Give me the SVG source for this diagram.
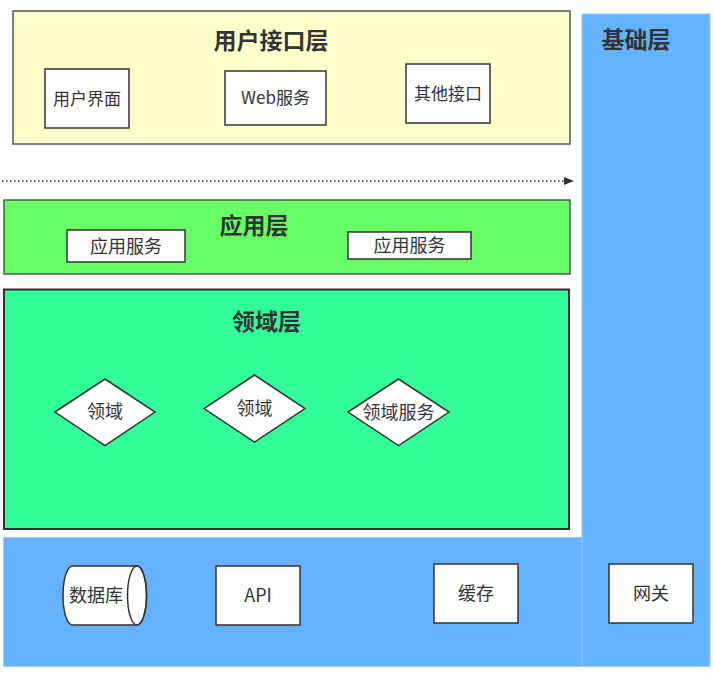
<svg xmlns="http://www.w3.org/2000/svg" width="713" height="673" viewBox="0 0 713 673">
<style>
  text { font-family: "Noto Sans CJK SC", "Noto Sans", sans-serif; fill: #333333; text-anchor: middle; }
  .title { font-size: 23px; font-weight: bold; }
  .lbl { font-size: 18px; }
  .lbl-s { font-size: 17px; }
  .box { fill: #ffffff; stroke: #333333; stroke-width: 1.5; }
  .layer { stroke: #555555; stroke-width: 1.5; }
  .base { fill: #66b2ff; stroke: #99ccff; stroke-width: 1; }
  .conn { fill: none; stroke: #333333; stroke-width: 1.5; stroke-dasharray: 1.5 2.5; }
</style>
<defs>
  <marker id="arrow" markerWidth="10" markerHeight="8" refX="10" refY="4" orient="auto" markerUnits="userSpaceOnUse">
    <path d="M0,0 L10,4 L0,8 Z" fill="#333333"/>
  </marker>
</defs>
<rect width="713" height="673" fill="#ffffff"/>

<g id="infra-layer">
  <rect class="base" x="3.5" y="537.5" width="706" height="129"/>
  <rect class="base" x="582" y="14" width="128" height="652.5"/>
  <rect x="583" y="538" width="126" height="128" fill="#66b2ff"/>
  <text class="title" x="636" y="48">基础层</text>
</g>

<g id="ui-layer">
  <rect class="layer" x="13" y="11" width="557" height="133" fill="#ffffcc"/>
  <text class="title" x="271" y="48.5">用户接口层</text>
</g>
<g id="ui-box"><rect class="box" x="45" y="69" width="84" height="59"/><text class="lbl-s" x="87" y="104.5">用户界面</text></g>
<g id="web-box"><rect class="box" x="225" y="71" width="101" height="54"/><text class="lbl-s" x="275.5" y="104">Web服务</text></g>
<g id="other-box"><rect class="box" x="406" y="64" width="84" height="59"/><text class="lbl-s" x="448" y="99.5">其他接口</text></g>

<g id="connectors">
  <line class="conn" x1="2" y1="181" x2="574" y2="181" marker-end="url(#arrow)"/>
</g>

<g id="app-layer">
  <rect class="layer" x="4" y="200" width="566" height="74" fill="#66ff66"/>
  <text class="title" x="254" y="233.5">应用层</text>
</g>
<g id="app-svc-1"><rect class="box" x="67" y="230" width="118" height="32"/><text class="lbl" x="126" y="252.5">应用服务</text></g>
<g id="app-svc-2"><rect class="box" x="348" y="232" width="123" height="27"/><text class="lbl" x="409.5" y="252">应用服务</text></g>

<g id="domain-layer">
  <rect x="4" y="289.5" width="565" height="239.5" fill="#33ff99" stroke="#333333" stroke-width="2"/>
  <text class="title" x="266.5" y="330">领域层</text>
</g>
<g id="domain-1"><polygon class="box" points="55,412 105,379 155,412 105,445.5"/><text class="lbl" x="105" y="418">领域</text></g>
<g id="domain-2"><polygon class="box" points="204,408.5 254.5,375 305,408.5 254.5,442"/><text class="lbl" x="254.5" y="415">领域</text></g>
<g id="domain-svc"><polygon class="box" points="348,412 398.5,379 449,412 398.5,445.5"/><text class="lbl" x="398.5" y="418.5">领域服务</text></g>

<g id="db">
  <path class="box" d="M72.5,566 L137,566 A9.5,29.5 0 0 1 137,625 L72.5,625 A9.5,29.5 0 0 1 72.5,566 Z"/>
  <ellipse cx="137" cy="595.5" rx="9.5" ry="29.5" fill="none" stroke="#333333" stroke-width="1.5"/>
  <text class="lbl" x="96" y="602">数据库</text>
</g>
<g id="api-box"><rect class="box" x="216" y="566" width="84" height="59"/><text class="lbl" x="258" y="601.5">API</text></g>
<g id="cache-box"><rect class="box" x="434" y="564" width="84" height="59"/><text class="lbl" x="476" y="600">缓存</text></g>
<g id="gateway-box"><rect class="box" x="609" y="564" width="84" height="59"/><text class="lbl" x="651" y="600">网关</text></g>
</svg>
